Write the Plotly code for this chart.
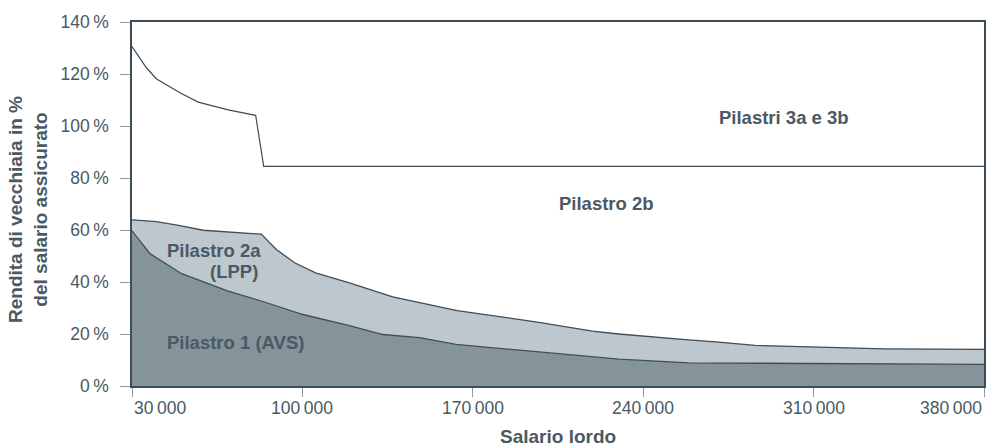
import plotly.graph_objects as go

# ---- data ----
# Pilastri 3a e 3b upper boundary line
p3_salary = [30000, 33300, 36000, 40100, 44900, 49700, 57200, 69500, 80800, 84100, 380000]
p3_pct = [130.5, 126.1, 122.3, 118.1, 115.3, 112.8, 109.2, 106.2, 104.1, 84.5, 84.5]

# Pilastro 2a (LPP) top = Pilastro 1 + 2a
p2a_salary = [30000, 40100, 49700, 59200, 83100, 89300, 96800, 105400, 119300, 137100,
              163600, 197200, 219100, 230000, 257300, 271000, 286000, 339300, 380000]
p2a_pct = [63.9, 63.2, 61.7, 59.9, 58.4, 52.5, 47.4, 43.5, 39.7, 34.3,
           29.0, 24.5, 21.1, 20.0, 17.8, 16.9, 15.6, 14.3, 14.1]

# Pilastro 1 (AVS)
p1_salary = [30000, 37400, 50400, 60600, 69500, 83800, 100200, 119300, 133000, 148000,
             163100, 197200, 221800, 230000, 258700, 303800, 380000]
p1_pct = [59.7, 50.9, 43.2, 39.7, 36.5, 32.5, 27.5, 23.2, 19.8, 18.6,
          16.0, 13.1, 11.2, 10.3, 8.9, 8.6, 8.3]

x_ticks = [30000, 100000, 170000, 240000, 310000, 380000]
x_tick_labels = ["30\u2009000", "100\u2009000", "170\u2009000", "240\u2009000", "310\u2009000", "380\u2009000"]
y_ticks = [0, 20, 40, 60, 80, 100, 120, 140]
y_tick_labels = ["0\u2009%", "20\u2009%", "40\u2009%", "60\u2009%", "80\u2009%", "100\u2009%", "120\u2009%", "140\u2009%"]

area_labels = ["Pilastri 3a e 3b", "Pilastro 2b", "Pilastro 2a", "(LPP)", "Pilastro 1 (AVS)"]
area_label_x = [298000, 225100, 83700, 82600, 72600]
area_label_y = [103.2, 70.2, 52.2, 44.2, 16.6]
area_label_anchor = ["center", "center", "right", "right", "center"]

x_title = "Salario lordo"
y_title = "Rendita di vecchiaia in %<br>del salario assicurato"

# ---- style ----
FONT = "Liberation Sans, Arial, Helvetica, sans-serif"
TEXT = "#4a5964"
EDGE = "#3f4d57"
DARK = "#85949b"
LIGHT = "#bdc7cd"
TICK = "#8e999f"

fig = go.Figure()
fig.add_trace(go.Scatter(x=p1_salary, y=p1_pct, mode="lines", fill="tozeroy",
                         fillcolor=DARK, line=dict(color=EDGE, width=1.3),
                         hoverinfo="skip", showlegend=False))
fig.add_trace(go.Scatter(x=p2a_salary, y=p2a_pct, mode="lines", fill="tonexty",
                         fillcolor=LIGHT, line=dict(color=EDGE, width=1.3),
                         hoverinfo="skip", showlegend=False))
fig.add_trace(go.Scatter(x=p3_salary, y=p3_pct, mode="lines",
                         line=dict(color=EDGE, width=1.2),
                         hoverinfo="skip", showlegend=False))

for txt, xx, yy, anc in zip(area_labels, area_label_x, area_label_y, area_label_anchor):
    fig.add_annotation(x=xx, y=yy, text=txt, showarrow=False, xanchor=anc, yanchor="middle",
                       font=dict(family=FONT, size=18.5, color=TEXT, weight="bold"))

last = len(x_ticks) - 1
for i, (tv, tl) in enumerate(zip(x_ticks, x_tick_labels)):
    anc = "left" if i == 0 else ("right" if i == last else "center")
    fig.add_annotation(x=tv, y=0, xref="x", yref="paper", text=tl, showarrow=False,
                       xanchor=anc, yanchor="middle", yshift=-22,
                       font=dict(family=FONT, size=17.5, color=TEXT))

fig.add_annotation(x=0.5, y=0, xref="paper", yref="paper", text=x_title, showarrow=False,
                   xanchor="center", yanchor="middle", yshift=-50,
                   font=dict(family=FONT, size=19, color=TEXT, weight="bold"))
fig.add_annotation(x=0, y=0.5, xref="paper", yref="paper", text=y_title, showarrow=False,
                   textangle=-90, xanchor="center", yanchor="middle", xshift=-104, yshift=-6,
                   align="center",
                   font=dict(family=FONT, size=19, color=TEXT, weight="bold"))

fig.update_xaxes(range=[30000, 380000], tickvals=x_ticks, showticklabels=False,
                 ticks="outside", ticklen=9, tickcolor=TICK, tickwidth=1.2,
                 showline=True, linecolor=EDGE, linewidth=1.5, mirror=True,
                 showgrid=False, zeroline=False)
fig.update_yaxes(range=[0, 140], tickvals=y_ticks, ticktext=y_tick_labels,
                 ticks="outside", ticklen=10, tickcolor=TICK, tickwidth=1.2,
                 ticklabelstandoff=8,
                 tickfont=dict(family=FONT, size=17.5, color=TEXT),
                 showline=True, linecolor=EDGE, linewidth=1.5, mirror=True,
                 showgrid=False, zeroline=False)

fig.update_layout(width=998, height=447, margin=dict(l=132, r=12, t=19, b=61),
                  plot_bgcolor="white", paper_bgcolor="white",
                  font=dict(family=FONT, color=TEXT))

fig.write_html("out.html", config={"displayModeBar": False},
               post_script="document.body.style.margin='0';")
